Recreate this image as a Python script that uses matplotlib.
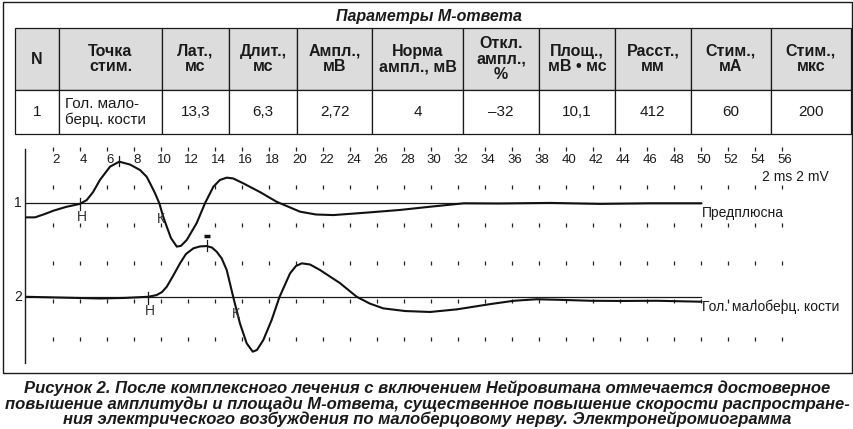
import numpy as np
import matplotlib.pyplot as plt

W, H = 854, 429

# ---- table data ----
table_title = 'Параметры М-ответа'
col_labels = ['N', 'Точка\nстим.', 'Лат.,\nмс', 'Длит.,\nмс', 'Ампл.,\nмВ',
              'Норма\nампл., мВ', 'Откл.\nампл.,\n%', 'Площ.,\nмВ • мс',
              'Расст.,\nмм', 'Стим.,\nмА', 'Стим.,\nмкс']
row_values = ['1', 'Гол. мало-\nберц. кости', '13,3', '6,3', '2,72', '4',
              '–32', '10,1', '412', '60', '200']
col_widths = [44.3, 102.4, 67.6, 68, 75, 91, 75.7, 76, 75.7, 80, 80.3]

# ---- EMG traces (ms, mV relative to own baseline) ----
ticks = list(range(2, 57, 2))

t1_ms = [-0.1, 0.63, 1.37, 1.99, 2.93, 3.96, 4.46, 4.93, 5.44, 6.19, 6.87, 7.67,
         8.41, 8.9, 9.22, 9.52, 9.84, 10.11, 10.39, 10.7, 11.13, 11.44, 11.87,
         12.6, 13.22, 13.84, 14.33, 14.83, 15.3, 16.06, 17.3, 18.53, 20.26,
         21.44, 22.73, 25.2, 27.67, 29.9, 32.4, 34.96, 38.8, 42.5, 46.2, 50.0]
t1_mv = [-0.74, -0.74, -0.56, -0.39, -0.19, -0.03, 0.17, 0.59, 1.23, 1.93, 2.19,
         2.04, 1.75, 1.40, 0.96, 0.53, 0.0, -0.67, -1.23, -1.83, -2.28, -2.24,
         -1.93, -1.05, 0.0, 0.87, 1.23, 1.35, 1.31, 1.05, 0.59, 0.08, -0.44,
         -0.59, -0.62, -0.49, -0.35, -0.18, 0.0, -0.01, 0.02, -0.03, 0.0, 0.0]

t2_ms = [-0.1, 2.48, 5.44, 7.3, 9.02, 9.64, 10.04, 10.39, 10.85, 11.37, 11.81,
         12.36, 12.85, 13.35, 13.74, 14.09, 14.46, 14.83, 15.32, 15.81, 16.31,
         16.76, 17.07, 17.54, 18.16, 18.73, 19.52, 19.96, 20.39, 21.0, 21.74,
         23.22, 24.46, 25.44, 26.43, 28.04, 29.9, 31.9, 34.4, 36.1, 37.8, 39.5,
         41.8, 44.0, 46.7, 50.0]
t2_mv = [0.03, -0.01, -0.06, -0.03, 0.03, 0.12, 0.28, 0.56, 1.12, 1.79, 2.28,
         2.58, 2.68, 2.70, 2.62, 2.40, 2.05, 1.44, 0.0, -1.37, -2.42, -2.86,
         -2.77, -2.25, -1.19, 0.0, 1.26, 1.65, 1.79, 1.73, 1.44, 0.75, 0.03,
         -0.33, -0.58, -0.72, -0.77, -0.63, -0.35, -0.18, -0.10, -0.13, -0.18,
         -0.19, -0.18, -0.23]

traces = [
    dict(num='1', name='Предплюсна', ms=t1_ms, mv=t1_mv, offset=0.0,
         h=3.96, k=9.84, peak=6.87, dash=False),
    dict(num='2', name='Гол. малоберц. кости', ms=t2_ms, mv=t2_mv, offset=-4.95,
         h=9.02, k=15.4, peak=13.35, dash=True),
]

caption = ('Рисунок 2. После комплексного лечения с включением Нейровитана отмечается достоверное\n'
           'повышение амплитуды и площади М-ответа, существенное повышение скорости распростране-\n'
           'ния электрического возбуждения по малоберцовому нерву. Электронейромиограмма')

plt.rcParams['font.family'] = ['Liberation Sans', 'DejaVu Sans']


def fx(px):
    return px / W


def fy(py):
    return 1 - py / H


fig = plt.figure(figsize=(W / 100, H / 100), dpi=100)

# outer frame
fig.patches.append(plt.Rectangle((fx(3), fy(373)), fx(852) - fx(3), fy(2) - fy(373),
                                 transform=fig.transFigure, fill=False, lw=1.0, ec='#1a1a1a'))

# ---- table ----
fig.text(fx(429), fy(16), table_title, ha='center', va='center',
         fontsize=11.5, fontweight='bold', fontstyle='italic', color='#1a1a1a')

ax_t = fig.add_axes([fx(15), fy(134), fx(851) - fx(15), fy(28.3) - fy(134)])
ax_t.axis('off')
tw = sum(col_widths)
tab = ax_t.table(cellText=[row_values], colLabels=col_labels,
                 colWidths=[w / tw for w in col_widths], cellLoc='center',
                 bbox=[0, 0, 1, 1])
tab.auto_set_font_size(False)
for (r, c), cell in tab.get_celld().items():
    cell.set_linewidth(0.9)
    cell.set_edgecolor('#1a1a1a')
    if r == 0:
        cell.set_height(61.7)
        cell.set_facecolor('#dcdcdc')
        cell.get_text().set_fontweight('bold')
        cell.get_text().set_fontsize(11.5)
        cell.get_text().set_linespacing(1.05)
    else:
        cell.set_height(44)
        cell.get_text().set_fontsize(11)
        cell.get_text().set_linespacing(1.15)
    cell.get_text().set_color('#1a1a1a')
left_cell = tab[1, 1]
left_cell._loc = 'left'
left_cell.PAD = 0.055
left_cell.get_text().set_ha('left')

# ---- EMG chart ----
x0_px, px_ms = 26.5, 13.5
base_px, px_mv = 203.3, 19.0
ax = fig.add_axes([fx(25), fy(373), fx(852) - fx(25), fy(140) - fy(373)])
ax.set_xlim((25 - x0_px) / px_ms, (852 - x0_px) / px_ms)
ax.set_ylim((base_px - 373) / px_mv, (base_px - 140) / px_mv)
for s in ['top', 'right', 'bottom']:
    ax.spines[s].set_visible(False)
ax.spines['left'].set_linewidth(1.0)
ax.spines['left'].set_color('#1a1a1a')
ax.spines['left'].set_bounds((base_px - 363) / px_mv, (base_px - 149) / px_mv)
ax.set_xticks([])
ax.set_yticks([])
ax.patch.set_alpha(0)

grid_top = (base_px - 149) / px_mv
rows = grid_top - 2 * np.arange(6)
gx, gy = np.meshgrid(ticks, rows)
ax.plot(gx.ravel(), gy.ravel(), ls='none', marker='|', ms=2.2, mew=0.9, color='#222222')

label_y = (base_px - 160) / px_mv
for t in ticks:
    ax.text(t + 0.2, label_y, str(t), ha='center', va='center', fontsize=9.5, color='#1a1a1a')
ax.text(59.4, 1.4, '2 ms 2 mV', ha='right', va='center', fontsize=10, color='#1a1a1a')

for tr in traces:
    off = tr['offset']
    ms = np.array(tr['ms'])
    mv = np.array(tr['mv']) + off
    ax.plot([ax.get_xlim()[0], 50], [off, off], color='#1a1a1a', lw=0.9)
    ax.plot(ms, mv, color='#111111', lw=1.5, solid_joinstyle='round', solid_capstyle='round')
    ax.text(-0.35, off, tr['num'], ha='right', va='center', fontsize=10, color='#1a1a1a')
    ax.text(50.05, off - 0.52, tr['name'], ha='left', va='center', fontsize=10, color='#1a1a1a')
    # H marker
    ax.plot([tr['h'], tr['h']], [off - 0.33, off + 0.3], color='#1a1a1a', lw=0.9)
    ax.text(tr['h'] + 0.15, off - 0.7, 'Н', ha='center', va='center', fontsize=10, color='#333333')
    # K marker
    ax.text(tr['k'] - 0.15, off - 0.85, 'К', ha='left', va='center', fontsize=10, color='#333333')
    # peak marker
    py = np.interp(tr['peak'], ms, mv)
    ax.plot([tr['peak'], tr['peak']], [py - 0.25, py + 0.3], color='#1a1a1a', lw=0.9)
    if tr['dash']:
        ax.plot([tr['peak']], [py + 0.53], ls='none', marker='_', ms=4.5, mew=2.5, color='#111111')

# ---- caption ----
fig.text(0.5, fy(404), caption, ha='center', va='center', fontsize=12,
         fontweight='bold', fontstyle='italic', linespacing=1.0, color='#1a1a1a')

fig.savefig('out.png', dpi=100)
